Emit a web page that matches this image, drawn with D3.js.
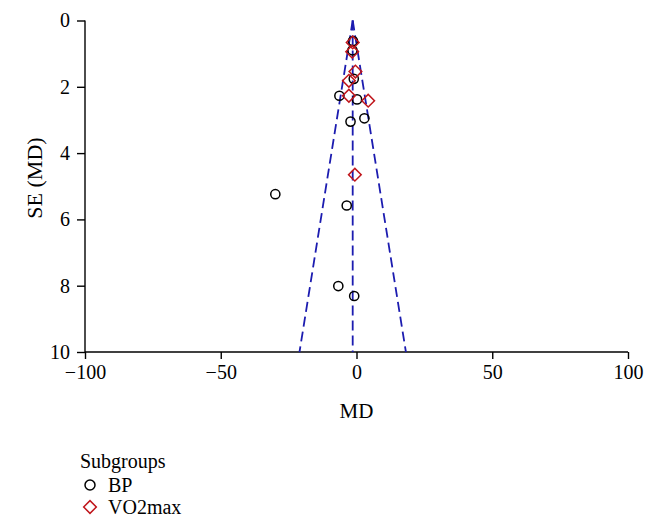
<!DOCTYPE html>
<html><head><meta charset="utf-8">
<script src="https://cdn.jsdelivr.net/npm/d3@7"></script>
<style>
body{margin:0;background:#fff;}
svg{display:block;}
text{font-family:"Liberation Serif","DejaVu Serif",serif;fill:#000;}
</style></head>
<body><svg id="c" width="656" height="525"></svg>
<script>
// Data
const bpMD = [-1.3, -1.5, -1.0, -6.3, 0.2, -2.2, 2.9, -29.9, -3.6, -6.7, -0.85];
const bpSE = [0.62, 0.9, 1.76, 2.27, 2.38, 3.05, 2.95, 5.24, 5.58, 8.01, 8.31];
const voMD = [-1.4, -1.6, -0.4, -2.8, -2.8, 4.3, -0.6];
const voSE = [0.66, 0.94, 1.54, 1.82, 2.27, 2.42, 4.65];
const pooledMD = -1.4;
const xTicks = [-100, -50, 0, 50, 100];
const yTicks = [0, 2, 4, 6, 8, 10];
const groups = ["BP", "VO2max"];

const svg = d3.select("#c");
const x = d3.scaleLinear().domain([-100, 100]).range([85, 628]);
const y = d3.scaleLinear().domain([0, 10]).range([20.5, 352]);
const fs = 20;

// axes
const xa = svg.append("g").attr("transform", "translate(0,352)")
  .call(d3.axisBottom(x).tickValues(xTicks).tickSize(7).tickSizeOuter(0).tickPadding(6)
    .tickFormat(d => d < 0 ? "\u2212" + Math.abs(d) : d));
const ya = svg.append("g").attr("transform", "translate(85,0)")
  .call(d3.axisLeft(y).tickValues(yTicks).tickSize(8).tickSizeOuter(0).tickPadding(7));
[xa, ya].forEach(g => {
  g.selectAll("path,line").attr("stroke", "#000").attr("stroke-width", 1.4);
  g.selectAll("text").style("font-size", fs + "px").attr("font-family", null);
});
xa.select(".domain").attr("d", `M${x(-100)},0H${x(100)}`);
ya.select(".domain").attr("d", `M0,${y(0)}V${y(10)}`);

// axis labels
svg.append("text").attr("x", x(0)).attr("y", 418).attr("text-anchor", "middle")
  .style("font-size", "21px").text("MD");
svg.append("text").attr("transform", `translate(42,178) rotate(-90)`)
  .attr("text-anchor", "middle").style("font-size", "22px").text("SE (MD)");

// funnel
const blue = "#1c1cb0";
const funnel = [
  [[pooledMD, 0], [pooledMD - 1.96 * 10, 10]],
  [[pooledMD, 0], [pooledMD, 10]],
  [[pooledMD, 0], [pooledMD + 1.96 * 10, 10]]
];
const line = d3.line().x(d => x(d[0])).y(d => y(d[1]));
svg.append("g").selectAll("path").data(funnel).join("path")
  .attr("d", line).attr("fill", "none").attr("stroke", blue)
  .attr("stroke-width", 1.8).attr("stroke-dasharray", "10,5");

// points
const red = "#c0161c";
const diamond = d3.symbol().type(d3.symbolSquare).size(80);
svg.append("g").selectAll("circle").data(bpMD.map((m, i) => [m, bpSE[i]])).join("circle")
  .attr("cx", d => x(d[0])).attr("cy", d => y(d[1])).attr("r", 4.6)
  .attr("fill", "none").attr("stroke", "#000").attr("stroke-width", 1.5);
svg.append("g").selectAll("path").data(voMD.map((m, i) => [m, voSE[i]])).join("path")
  .attr("d", diamond).attr("transform", d => `translate(${x(d[0])},${y(d[1])}) rotate(45)`)
  .attr("fill", "none").attr("stroke", red).attr("stroke-width", 1.5);

// legend
const lg = svg.append("g");
lg.append("text").attr("x", 80).attr("y", 468).style("font-size", fs + "px").text("Subgroups");
lg.append("circle").attr("cx", 90).attr("cy", 485).attr("r", 5)
  .attr("fill", "none").attr("stroke", "#000").attr("stroke-width", 1.5);
lg.append("text").attr("x", 108).attr("y", 492).style("font-size", fs + "px").text(groups[0]);
lg.append("path").attr("d", diamond).attr("transform", "translate(90,507) rotate(45)")
  .attr("fill", "none").attr("stroke", red).attr("stroke-width", 1.5);
lg.append("text").attr("x", 108).attr("y", 514).style("font-size", fs + "px").text(groups[1]);
</script></body></html>
